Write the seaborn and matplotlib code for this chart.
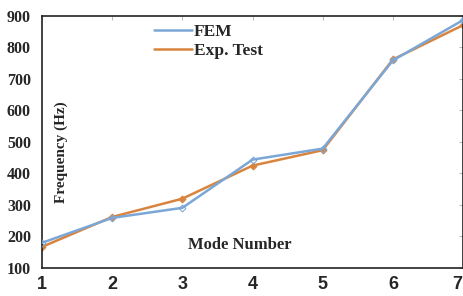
import matplotlib
matplotlib.use("Agg")
import matplotlib.pyplot as plt
import seaborn as sns
import pandas as pd
from matplotlib.lines import Line2D
import matplotlib.transforms as mtransforms

modes = [1, 2, 3, 4, 5, 6, 7]
fem = [180, 259, 291, 444, 479, 759, 887]
exp_test = [167, 262, 320, 425, 474, 762, 871]
series_names = ["FEM", "Exp. Test"]
colors = ["#7ba7d7", "#d9843e"]

df = pd.DataFrame({
    "Mode": modes * 2,
    "Frequency": fem + exp_test,
    "Series": [series_names[0]] * len(modes) + [series_names[1]] * len(modes),
})

sns.set_style("white")
fig = plt.figure(figsize=(4.64, 2.96), dpi=100)
ax = fig.add_axes([0.0905, 0.0946, 0.9075, 0.8514])

sns.lineplot(data=df[df.Series == series_names[1]], x="Mode", y="Frequency",
             color=colors[1], linewidth=1.8, marker="D", markersize=3.5,
             markeredgecolor=colors[1], ax=ax, label=series_names[1], zorder=2)
sns.lineplot(data=df[df.Series == series_names[0]], x="Mode", y="Frequency",
             color=colors[0], linewidth=1.8, marker="D", markersize=3.5,
             markeredgecolor=colors[0], markerfacecolor="none", ax=ax,
             label=series_names[0], zorder=3)

ax.set_xlim(1, 7)
ax.set_ylim(100, 900)
ax.set_xticks(modes)
ax.set_yticks(range(100, 901, 100))
ax.set_xlabel("")
ax.set_ylabel("")

for s in ax.spines.values():
    s.set_color("#222222")
    s.set_linewidth(1.2)

ax.tick_params(axis="both", direction="in", length=3, color="#bbbbbb",
               top=True, right=True)
ax.tick_params(axis="x", pad=6)
ax.tick_params(axis="y", pad=8)
for lbl in ax.get_xticklabels():
    lbl.set_fontfamily("Liberation Sans")
    lbl.set_fontweight("bold")
    lbl.set_fontsize(13)
last = ax.get_xticklabels()[-1]
last.set_transform(last.get_transform() + mtransforms.ScaledTranslation(-6/100, 0, fig.dpi_scale_trans))
for lbl in ax.get_yticklabels():
    lbl.set_fontfamily("Liberation Serif")
    lbl.set_fontweight("bold")
    lbl.set_fontsize(11.5)

ax.text(0.045, 0.46, "Frequency (Hz)", transform=ax.transAxes, rotation=90,
        ha="center", va="center", fontfamily="Liberation Serif",
        fontweight="bold", fontsize=11)
ax.text(0.47, 0.09, "Mode Number", transform=ax.transAxes,
        ha="center", va="center", fontfamily="Liberation Serif",
        fontweight="bold", fontsize=12)

h = [Line2D([0], [0], color=colors[0], lw=1.8), Line2D([0], [0], color=colors[1], lw=1.8)]
leg = ax.legend(h, series_names, loc="upper left", bbox_to_anchor=(0.228, 1.03),
                frameon=False, handlelength=2.2, handletextpad=0.1,
                labelspacing=0.15, prop={"family": "Liberation Serif",
                                         "weight": "bold", "size": 12.5})

fig.savefig("out.png", dpi=100)
